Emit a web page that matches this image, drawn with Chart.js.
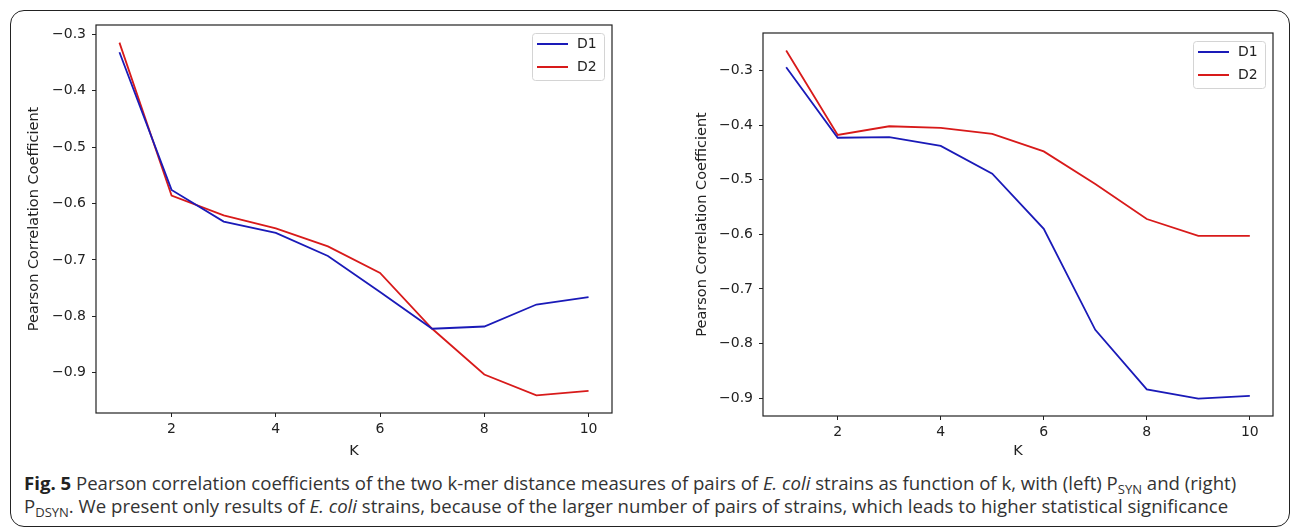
<!DOCTYPE html>
<html>
<head>
<meta charset="utf-8">
<script src="https://cdn.jsdelivr.net/npm/chart.js@4.4.0/dist/chart.umd.min.js"></script>
<style>
  body { margin: 0; background: #fff; width: 1292px; height: 529px; overflow: hidden; position: relative; }
  .frame { position: absolute; left: 10px; top: 10px; width: 1278px; height: 515px; border: 1.5px solid #222; border-radius: 14px; }
  canvas { position: absolute; top: 0; }
  #left { left: 0; }
  #right { left: 650px; }
  .caption { position: absolute; left: 24px; top: 471px; font-family: 'Open Sans', sans-serif; font-size: 18.6px; line-height: 23px; color: #333; white-space: nowrap; }
  .caption b { color: #222; }
  .caption sub { font-size: 70%; line-height: 0; vertical-align: -4px; }
</style>
</head>
<body>
<div class="frame"></div>
<canvas id="left" width="640" height="460"></canvas>
<canvas id="right" width="642" height="460"></canvas>
<div class="caption">
  <b>Fig. 5</b> Pearson correlation coefficients of the two k-mer distance measures of pairs of <i>E. coli</i> strains as function of k, with (left) P<sub>SYN</sub> and (right)<br>
  P<sub>DSYN</sub>. We present only results of <i>E. coli</i> strains, because of the larger number of pairs of strains, which leads to higher statistical significance
</div>
<script>
// values
const kValues = [1, 2, 3, 4, 5, 6, 7, 8, 9, 10];
const xTicks = [2, 4, 6, 8, 10];
const yTicks = [-0.9, -0.8, -0.7, -0.6, -0.5, -0.4, -0.3];

const leftD1 = [-0.332, -0.576, -0.632, -0.652, -0.693, -0.757, -0.822, -0.818, -0.779, -0.766];
const leftD2 = [-0.315, -0.586, -0.621, -0.644, -0.676, -0.723, -0.822, -0.903, -0.940, -0.932];
const rightD1 = [-0.294, -0.423, -0.422, -0.438, -0.489, -0.590, -0.775, -0.884, -0.901, -0.896];
const rightD2 = [-0.263, -0.418, -0.402, -0.405, -0.416, -0.448, -0.508, -0.572, -0.603, -0.603];

const blue = '#1a1ab8';
const red = '#d81a1a';
const tickFont = { family: 'DejaVu Sans', size: 14 };
const titleFont = { family: 'DejaVu Sans', size: 14.5 };

// matplotlib style frame round the plot area
const framePlugin = {
    id: 'frame',
    afterDraw(chart) {
        const { ctx, chartArea: a } = chart;
        ctx.save();
        ctx.strokeStyle = '#222';
        ctx.lineWidth = 1.2;
        ctx.strokeRect(a.left, a.top, a.right - a.left, a.bottom - a.top);
        ctx.restore();
    }
};

// legend box in the upper right corner
const boxLegend = {
    id: 'boxLegend',
    afterDraw(chart) {
        const { ctx, chartArea: a } = chart;
        const w = 72, h = 47;
        const x0 = a.right - 8 - w, y0 = a.top + 8;
        ctx.save();
        ctx.fillStyle = 'rgba(255,255,255,0.85)';
        ctx.strokeStyle = '#d4d4d4';
        ctx.lineWidth = 1;
        ctx.beginPath();
        ctx.roundRect(x0 + 0.5, y0 + 0.5, w, h, 3);
        ctx.fill();
        ctx.stroke();
        chart.data.datasets.forEach((ds, i) => {
            const y = y0 + 11 + i * 23;
            ctx.strokeStyle = ds.borderColor;
            ctx.lineWidth = 2;
            ctx.beginPath();
            ctx.moveTo(x0 + 5, y);
            ctx.lineTo(x0 + 36, y);
            ctx.stroke();
            ctx.fillStyle = '#222';
            ctx.font = '14px "DejaVu Sans"';
            ctx.textBaseline = 'middle';
            ctx.fillText(ds.label, x0 + 45, y);
        });
        ctx.restore();
    }
};

function limits(values) {
    const lo = Math.min(...values), hi = Math.max(...values);
    const m = (hi - lo) * 0.05;
    return [lo - m, hi + m];
}

function makeChart(id, d1, d2, box) {
    const [ymin, ymax] = limits(d1.concat(d2));
    const [xmin, xmax] = limits(kValues);
    new Chart(document.getElementById(id), {
        type: 'line',
        data: {
            labels: kValues,
            datasets: [
                { label: 'D1', data: kValues.map((k, i) => ({ x: k, y: d1[i] })), borderColor: blue, borderWidth: 1.8, pointRadius: 0, tension: 0 },
                { label: 'D2', data: kValues.map((k, i) => ({ x: k, y: d2[i] })), borderColor: red, borderWidth: 1.8, pointRadius: 0, tension: 0 }
            ]
        },
        options: {
            responsive: false,
            animation: false,
            devicePixelRatio: 1,
            layout: { autoPadding: false, padding: { left: box.left, top: box.top, right: box.right, bottom: 0 } },
            plugins: { legend: { display: false }, tooltip: { enabled: false } },
            scales: {
                x: {
                    type: 'linear',
                    min: xmin, max: xmax,
                    afterBuildTicks: s => { s.ticks = xTicks.map(v => ({ value: v })); },
                    afterFit: s => { s.height = box.xh; },
                    grid: { drawOnChartArea: false, drawTicks: true, tickLength: 4, color: '#222' },
                    border: { display: false },
                    ticks: { font: tickFont, color: '#222', padding: 4, maxRotation: 0, callback: v => String(v) },
                    title: { display: true, text: 'K', font: titleFont, color: '#222', padding: { top: 2, bottom: 0 } }
                },
                y: {
                    min: ymin, max: ymax,
                    afterBuildTicks: s => { s.ticks = yTicks.map(v => ({ value: v })); },
                    afterFit: s => { s.width = box.yw; },
                    grid: { drawOnChartArea: false, drawTicks: true, tickLength: 4, color: '#222' },
                    border: { display: false },
                    ticks: { font: tickFont, color: '#222', padding: 6, callback: v => '\u2212' + Math.abs(v).toFixed(1) },
                    title: { display: true, text: 'Pearson Correlation Coefficient', font: titleFont, color: '#222', padding: { top: 3, bottom: 0 } }
                }
            }
        },
        plugins: [framePlugin, boxLegend]
    });
}

makeChart('left', leftD1, leftD2, { left: 23, top: 25, right: 28, yw: 73, xh: 47 });
makeChart('right', rightD1, rightD2, { left: 41, top: 33, right: 19, yw: 72, xh: 44 });
</script>
</body>
</html>
